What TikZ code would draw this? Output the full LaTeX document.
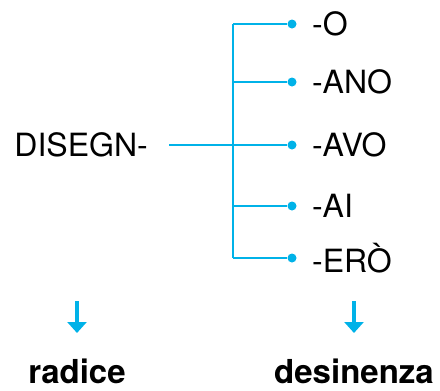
\documentclass[tikz,border=0pt]{standalone}
\usepackage{fontspec}
\setmainfont{TeX Gyre Heros}
\usepackage{tikz}
\usetikzlibrary{arrows.meta,positioning,calc}
\definecolor{azzurro}{RGB}{0,178,232}
\tikzset{
    ramo/.style={draw=azzurro, line width=2pt},
    pallino/.style={
        circle,
        fill=azzurro,
        inner sep=0pt,
        minimum size=9pt
    },
    parola/.style={
        inner sep=0pt,
        font={\fontsize{32pt}{35}\selectfont}
    },
    etichetta/.style={
        inner sep=0pt,
        anchor=base,
        font={\bfseries\fontsize{33pt}{36}\selectfont}
    },
    freccia/.style={
        draw=azzurro, line width=4.5pt,
        -{Triangle[width=19pt,length=11pt]}
    },
}
\begin{document}
\begin{tikzpicture}[x=1pt, y=-1pt]
\useasboundingbox (0,0) rectangle (440,391);

\node [parola, anchor=east] (radix) at (148,145) {DISEGN-};
\coordinate (stem) at (169,145);

\foreach \l/\h [count=\i] in {O/24, ANO/82, AVO/145, AI/206, ER\`O/258}
{
  \coordinate (trunk-\i) at (233,\h);
  \node [pallino] (dot-\i) at (292,\h) {};
  \node [parola, anchor=west] (end-\i) at (312,\h) {-\l};
  \draw [ramo] (trunk-\i) -- (dot-\i);
}

\draw [ramo] (trunk-1) -- (trunk-5);
\draw [ramo] (stem) -- (trunk-3);

\node [etichetta] (lab-1) at (77,383) {radice};
\node [etichetta] (lab-2) at (354,383) {desinenza};

\foreach \i in {1,2}
{
  \coordinate (top-\i) at ($(lab-\i.base)+(0,-82)$);
  \coordinate (tip-\i) at ($(lab-\i.base)+(0,-50)$);
  \draw [freccia] (top-\i) -- (tip-\i);
}

\end{tikzpicture}
\end{document}
